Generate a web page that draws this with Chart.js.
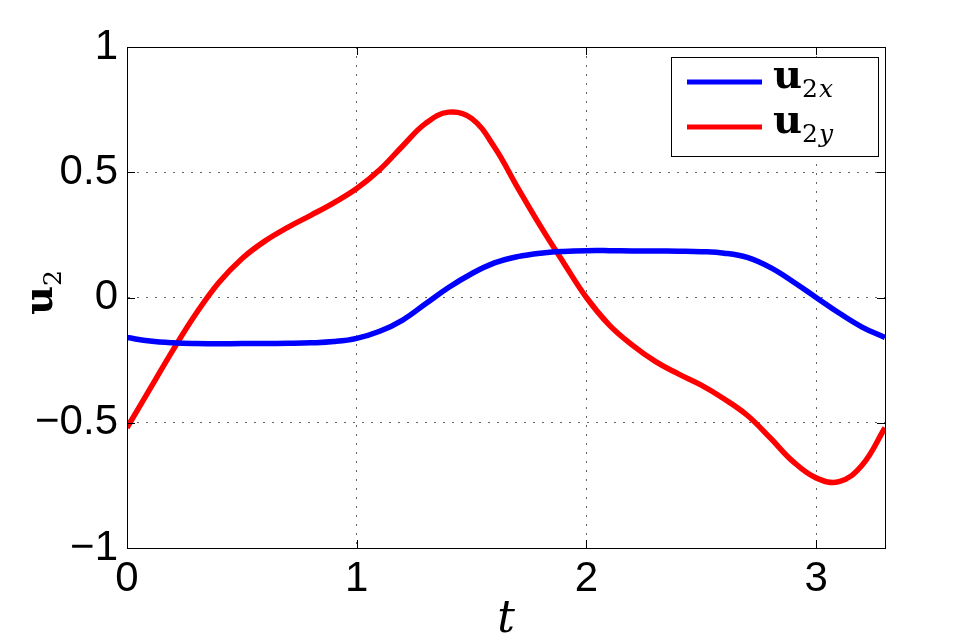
<!DOCTYPE html>
<html>
<head>
<meta charset="utf-8">
<script src="https://cdn.jsdelivr.net/npm/chart.js@4/dist/chart.umd.min.js"></script>
<style>
html, body { margin: 0; padding: 0; background: #fff; }
</style>
</head>
<body>
<canvas id="myChart" width="978" height="634"></canvas>
<script>
// time samples (t) and the two components of u2
const tValues = [0, 0.1, 0.2, 0.3, 0.4, 0.5, 0.6, 0.7, 0.8, 0.9,
	1.0, 1.1, 1.2, 1.3, 1.4, 1.5, 1.6, 1.7, 1.8, 1.9,
	2.0, 2.1, 2.2, 2.3, 2.4, 2.5, 2.6, 2.7, 2.8, 2.9,
	3.0, 3.1, 3.2, 3.3];
const u2x = [-0.160, -0.174, -0.181, -0.184, -0.185, -0.184, -0.184, -0.183, -0.181, -0.176,
	-0.163, -0.135, -0.090, -0.025, 0.040, 0.095, 0.138, 0.163, 0.177, 0.184,
	0.187, 0.187, 0.186, 0.186, 0.185, 0.183, 0.177, 0.160, 0.120, 0.063,
	0.000, -0.062, -0.118, -0.160];
const u2y = [-0.52, -0.365, -0.21, -0.065, 0.06, 0.155, 0.225, 0.28, 0.328, 0.378,
	0.435, 0.51, 0.605, 0.695, 0.74, 0.715, 0.60, 0.44, 0.285, 0.14,
	0.0, -0.11, -0.19, -0.255, -0.305, -0.35, -0.405, -0.47, -0.56, -0.655,
	-0.72, -0.735, -0.67, -0.52];
const xTicks = [0, 1, 2, 3];
const yTicks = [-1, -0.5, 0, 0.5, 1];
const seriesNames = ['u2x', 'u2y'];

const toPoints = (ys) => tValues.map((t, i) => ({ x: t, y: ys[i] }));
const fmt = (v) => (v < 0 ? '\u2212' + Math.abs(v) : String(v));

// bold u with an upright "2" and an optional italic variable as subscript
function drawU(ctx, x, y, v) {
	ctx.textBaseline = 'alphabetic';
	ctx.textAlign = 'left';
	ctx.font = 'bold 40px "DejaVu Serif"';
	ctx.fillText('u', x, y);
	let w = ctx.measureText('u').width;
	const sy = y + 9;
	ctx.font = '25px "DejaVu Serif"';
	ctx.fillText('2', x + w, sy);
	w += ctx.measureText('2').width;
	if (v) {
		ctx.font = 'italic 25px "DejaVu Serif"';
		ctx.fillText(v, x + w + 1, sy);
	}
}

const framePlugin = {
	id: 'frame',
	afterDraw(chart) {
		const ctx = chart.ctx;
		const a = chart.chartArea;
		const xs = chart.scales.x, ys = chart.scales.y;
		ctx.save();
		ctx.strokeStyle = '#000';
		ctx.lineWidth = 1;
		// inward ticks on all four sides
		ctx.beginPath();
		xTicks.forEach(v => {
			const px = Math.round(xs.getPixelForValue(v)) + 0.5;
			ctx.moveTo(px, a.bottom); ctx.lineTo(px, a.bottom - 8);
			ctx.moveTo(px, a.top); ctx.lineTo(px, a.top + 8);
		});
		yTicks.forEach(v => {
			const py = Math.round(ys.getPixelForValue(v)) + 0.5;
			ctx.moveTo(a.left, py); ctx.lineTo(a.left + 8, py);
			ctx.moveTo(a.right, py); ctx.lineTo(a.right - 8, py);
		});
		ctx.stroke();
		ctx.strokeRect(Math.round(a.left) + 0.5, Math.round(a.top) + 0.5,
			Math.round(a.right - a.left), Math.round(a.bottom - a.top));

		// legend box
		const lx = 671, ly = 57, lw = 207, lh = 99;
		ctx.fillStyle = '#fff';
		ctx.fillRect(lx, ly, lw, lh);
		ctx.strokeRect(lx + 0.5, ly + 0.5, lw, lh);
		chart.data.datasets.forEach((ds, i) => {
			const yy = 82 + i * 45;
			ctx.strokeStyle = ds.borderColor;
			ctx.lineWidth = 5;
			ctx.beginPath();
			ctx.moveTo(687, yy); ctx.lineTo(762, yy);
			ctx.stroke();
			ctx.fillStyle = '#000';
			drawU(ctx, 773, yy + 6, ds.label.slice(2));
		});

		// axis titles
		ctx.fillStyle = '#000';
		ctx.font = 'italic 44px "DejaVu Serif"';
		ctx.textAlign = 'center';
		ctx.textBaseline = 'alphabetic';
		ctx.fillText('t', (a.left + a.right) / 2, 632);
		ctx.save();
		ctx.translate(52, 315);
		ctx.rotate(-Math.PI / 2);
		drawU(ctx, 0, 0, '');
		ctx.restore();
		ctx.restore();
	}
};

const gridOpts = { color: '#666', drawTicks: false, lineWidth: 1 };
const borderOpts = { display: true, color: '#000', width: 1, dash: [2, 7] };

const ctx = document.getElementById('myChart').getContext('2d');
const myChart = new Chart(ctx, {
	type: 'line',
	data: {
		datasets: [{
			label: seriesNames[0],
			data: toPoints(u2x),
			borderColor: '#0000ff',
			borderWidth: 5.5,
			pointRadius: 0,
			tension: 0.4,
			fill: false
		}, {
			label: seriesNames[1],
			data: toPoints(u2y),
			borderColor: '#ff0000',
			borderWidth: 5.5,
			pointRadius: 0,
			tension: 0.4,
			fill: false
		}]
	},
	options: {
		responsive: false,
		animation: false,
		devicePixelRatio: 1,
		layout: { padding: { top: 47, right: 93, left: 0, bottom: 0 } },
		plugins: {
			legend: { display: false },
			tooltip: { enabled: false }
		},
		scales: {
			x: {
				type: 'linear',
				min: 0,
				max: 3.3,
				afterFit(scale) { scale.height = 86; },
				afterBuildTicks(scale) { scale.ticks = xTicks.map(v => ({ value: v })); },
				ticks: {
					includeBounds: false,
					autoSkip: false,
					maxRotation: 0,
					padding: 6,
					color: '#000',
					font: { family: '"Liberation Sans"', size: 42 },
					callback: (v) => fmt(v)
				},
				grid: gridOpts,
				border: borderOpts
			},
			y: {
				min: -1,
				max: 1,
				afterFit(scale) { scale.width = 127; },
				afterBuildTicks(scale) { scale.ticks = yTicks.map(v => ({ value: v })); },
				ticks: {
					autoSkip: false,
					padding: 9,
					color: '#000',
					font: { family: '"Liberation Sans"', size: 42 },
					callback: (v) => fmt(v)
				},
				grid: gridOpts,
				border: borderOpts
			}
		}
	},
	plugins: [framePlugin]
});
</script>
</body>
</html>
